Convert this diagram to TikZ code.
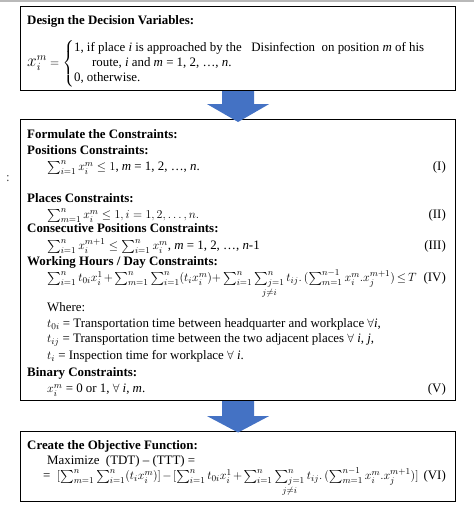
\documentclass[tikz,border=0pt]{standalone}
\usepackage{amsmath,amssymb}
\usepackage{fontspec}
\setmainfont{Liberation Serif}
\usepackage{tikz}
\usetikzlibrary{positioning, calc}
\definecolor{arrowblue}{RGB}{68,114,196}
\tikzset{
	panel/.style={draw, line width=1.1pt, anchor=north west, inner sep=0pt},
	txt/.style={anchor=base west, inner sep=0pt, font=\fontsize{12.9}{15}\selectfont},
	headtxt/.style={txt, font=\fontsize{12.9}{15}\selectfont\bfseries},
	eqno/.style={anchor=base east, inner sep=0pt, font=\fontsize{12.9}{15}\selectfont},
	tight/.style={execute at begin node={\medmuskip=2mu plus 1mu\thickmuskip=3mu plus 2mu}},
	blockarrow/.style={fill=arrowblue}
}

\begin{document}
\begin{tikzpicture}[x=1pt,y=1pt,yscale=-1,xscale=1]
	\useasboundingbox (0,0) rectangle (474,519);
	% top strip
	\fill[gray!55] (0,0) rectangle (474,2.5);
	
	% the three boxes
	\node[panel, minimum width=435pt, minimum height=84pt] (design) at (20,6) {};
	\node[panel, minimum width=435pt, minimum height=281pt] (cons) at (20,119) {};
	\node[panel, minimum width=435pt, minimum height=70pt] (obj) at (20,431) {};
	
	% block arrows between boxes
	\fill[blockarrow] ($(design.south)+(-16,0)$) -- ($(design.south)+(16,0)$) -- ($(design.south)+(16,13)$) -- ($(design.south)+(31,13)$) -- ($(cons.north)+(0,3)$) -- ($(design.south)+(-31,13)$) -- ($(design.south)+(-16,13)$) -- cycle;
	\fill[blockarrow] ($(cons.south)+(-16,0)$) -- ($(cons.south)+(16,0)$) -- ($(cons.south)+(16,15)$) -- ($(cons.south)+(31,15)$) -- ($(obj.north)+(0,1.5)$) -- ($(cons.south)+(-31,15)$) -- ($(cons.south)+(-16,15)$) -- cycle;
	
	% Text Node
	\node[headtxt] (dtitle) at (27,24.5) {Design the Decision Variables:};
	% Text Node
	\node[txt] (xdef) at (27,66.5) {{\fontsize{16}{18}\selectfont$x_i^m$} $=\left\{\begin{tabular}{@{}l@{}}1, if place \textit{i} is approached by the \ \ Disinfection \ on position \textit{m} of his\\ \hspace{18pt}route, \textit{i} and \textit{m} = 1, 2, \ldots, \textit{n}.\\ 0, otherwise.\end{tabular}\right.$};
	
	% Text Node
	\node[headtxt] (ftitle) at (27,138.5) {Formulate the Constraints:};
	% Text Node
	\node[headtxt] (poshead) at (27,154.5) {Positions Constraints:};
	\node[txt] (eqI) at (47,170.5) {$\sum_{i=1}^{n} x_i^m \le 1$, \textit{m} = 1, 2, \ldots, \textit{n}.};
	\node[eqno] (noI) at (446,170.5) {(I)};
	% Text Node
	\node[headtxt] (plahead) at (27,202.5) {Places Constraints:};
	\node[txt] (eqII) at (47,218.5) {$\sum_{m=1}^{n} x_i^m \le 1, i = 1, 2, \ldots, n.$};
	\node[eqno] (noII) at (446,218.5) {(II)};
	% Text Node
	\node[headtxt] (conhead) at (27,232.5) {Consecutive Positions Constraints:};
	\node[txt] (eqIII) at (47,249.5) {$\sum_{i=1}^{n} x_i^{m+1} \le \sum_{i=1}^{n} x_i^m$, \textit{m} = 1, 2, \ldots, \textit{n}-1};
	\node[eqno] (noIII) at (446,249.5) {(III)};
	% Text Node
	\node[headtxt] (workhead) at (27,265.5) {Working Hours / Day Constraints:};
	\node[txt, tight] (eqIV) at (47,281.5) {$\sum_{i=1}^{n} t_{0i} x_i^1 + \sum_{m=1}^{n}\sum_{i=1}^{n}(t_i x_i^m) {+} \sum_{i=1}^{n}\mathop{\sum_{j=1}^{n}}\limits_{j\neq i} t_{ij}.\,(\sum_{m=1}^{n-1} x_i^m . x_j^{m+1}) \le T$};
	\node[eqno] (noIV) at (446,281.5) {(IV)};
	% Text Node
	\node[txt] (where) at (47,311.5) {Where:};
	\node[txt] (tzero) at (47,327.5) {$t_{0i}$ = Transportation time between headquarter and workplace $\forall$\textit{i},};
	\node[txt] (tadj) at (47,342.5) {$t_{ij}$ = Transportation time between the two adjacent places $\forall$ \textit{i}, \textit{j},};
	\node[txt] (tins) at (47,359.5) {$t_i$ = Inspection time for workplace $\forall$ \textit{i}.};
	% Text Node
	\node[headtxt] (binhead) at (27,376.5) {Binary Constraints:};
	\node[txt] (eqV) at (47,392.5) {$x_i^m$ = 0 or 1, $\forall$ \textit{i}, \textit{m}.};
	\node[eqno] (noV) at (446,392.5) {(V)};
	
	% Text Node
	\node[headtxt] (otitle) at (27,449.5) {Create the Objective Function:};
	\node[txt] (maxi) at (47,464) {Maximize\ \ (TDT) -- (TTT) =};
	\node[txt, tight] (eqVI) at (43,479.5) {= \ $[\sum_{m=1}^{n}\sum_{i=1}^{n}(t_i x_i^m)] - [\sum_{i=1}^{n} t_{0i}x_i^1 + \sum_{i=1}^{n}\mathop{\sum_{j=1}^{n}}\limits_{j\neq i} t_{ij}.\,(\sum_{m=1}^{n-1} x_i^m . x_j^{m+1})]$};
	\node[eqno] (noVI) at (446,479.5) {(VI)};
	
	% stray mark left of the middle box
	\node[txt, text=black!70] (colon) at (6,181) {:};
\end{tikzpicture}
\end{document}
